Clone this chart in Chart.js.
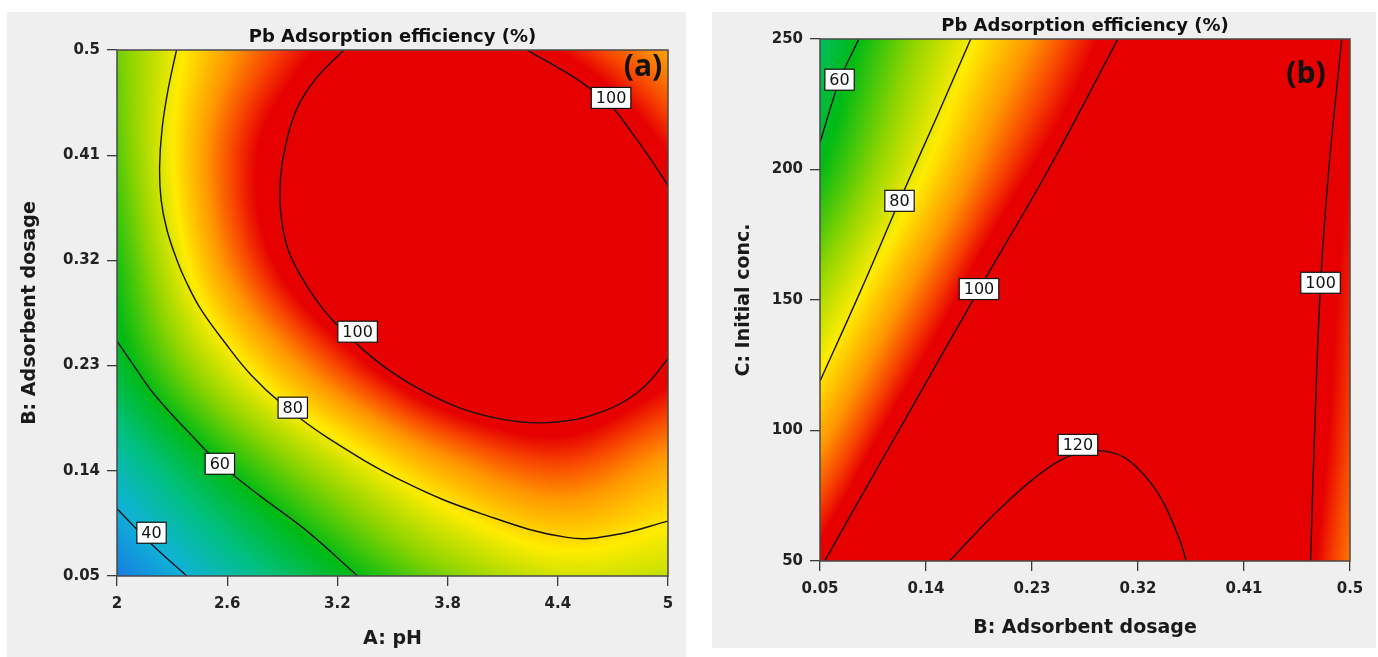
<!DOCTYPE html>
<html>
<head>
<meta charset="utf-8">
<script src="https://cdn.jsdelivr.net/npm/chart.js@4.4.0/dist/chart.umd.min.js"></script>
<style>
  body { margin: 0; background: #fff; width: 1378px; height: 657px; overflow: hidden; position: relative; }
  .panel { position: absolute; background: #efefef; }
  #pa { left: 7px; top: 12px; width: 679px; height: 645px; }
  #pb { left: 712px; top: 12px; width: 664px; height: 636px; }
</style>
</head>
<body>
<div class="panel" id="pa"><canvas id="ca"></canvas></div>
<div class="panel" id="pb"><canvas id="cb"></canvas></div>
<script>
// axis ticks
const phTicks = [2, 2.6, 3.2, 3.8, 4.4, 5];
const dosageTicks = [0.05, 0.14, 0.23, 0.32, 0.41, 0.5];
const concTicks = [50, 100, 150, 200, 250];

// efficiency (%) read at the tick grid
// (a): rows = dosage 0.05 -> 0.5, cols = pH 2 -> 5
const effA = [
  [31, 45, 58, 69, 76, 75],
  [44, 60, 74, 86, 92, 86],
  [57, 77, 93, 104, 106, 99],
  [62, 89, 105, 111, 112, 104],
  [66, 92, 106, 112, 110, 97],
  [68, 87, 99, 106, 97, 87]
];
// (b): rows = conc 50 -> 250, cols = dosage 0.05 -> 0.5
const effB = [
  [99, 116, 125, 124, 111, 90],
  [86, 104, 116, 118, 112, 93],
  [73, 92, 108, 114, 110, 95],
  [60, 80, 97, 106, 107, 97],
  [53, 72, 88, 101, 104, 99]
];

// contour lines, [x, y]
const a40 = [[2, 0.1075], [2.19, 0.077], [2.38, 0.05]];
const a60 = [[2, 0.251], [2.1, 0.228], [2.21, 0.204], [2.42, 0.168], [2.56, 0.146], [2.775, 0.119], [3.03, 0.089], [3.31, 0.05]];
const a80 = [[2.324, 0.5], [2.278, 0.466], [2.245, 0.432], [2.232, 0.4], [2.24, 0.372], [2.272, 0.346],
  [2.327, 0.32], [2.376, 0.302], [2.457, 0.278], [2.586, 0.25], [2.73, 0.222], [2.9, 0.197], [3.15, 0.168],
  [3.57, 0.13], [3.99, 0.103], [4.45, 0.083], [4.72, 0.0855], [5, 0.097]];
const a100 = [[3.235, 0.5], [3.08, 0.475], [2.98, 0.45], [2.92, 0.42], [2.89, 0.39], [2.892, 0.36], [2.93, 0.33],
  [3.0, 0.307], [3.09, 0.285], [3.19, 0.266], [3.33, 0.245], [3.49, 0.225], [3.68, 0.207], [3.88, 0.193],
  [4.1, 0.184], [4.3, 0.181], [4.5, 0.184], [4.65, 0.191], [4.78, 0.201], [4.89, 0.215], [5, 0.236]];
const a100b = [[4.23, 0.5], [4.4, 0.485], [4.55, 0.47], [4.69, 0.452], [4.8, 0.43], [4.9, 0.408], [5, 0.384]];

const b60 = [[0.083, 250], [0.0666, 234], [0.05, 210.3]];
const b80 = [[0.178, 250], [0.148, 219], [0.1175, 188], [0.0845, 153.5], [0.05, 118.9]];
const b100 = [[0.303, 250], [0.244, 200], [0.185, 154], [0.1274, 108.3], [0.0806, 71.2], [0.054, 50]];
const b100b = [[0.493, 250], [0.482, 200], [0.475, 156], [0.47, 100], [0.4665, 50]];
const b120 = [[0.16, 50], [0.183, 61], [0.2055, 71.2], [0.23, 81], [0.2525, 88.2], [0.272, 91.6], [0.29, 92.2],
  [0.307, 90], [0.321, 85], [0.334, 78], [0.343, 71.2], [0.3555, 58], [0.361, 50]];

// contour labels, [x, y, text]
const labelsA = [[4.69, 0.459, '100'], [3.31, 0.259, '100'], [2.957, 0.194, '80'], [2.56, 0.146, '60'], [2.188, 0.087, '40']];
const labelsB = [[0.0666, 234.4, '60'], [0.1175, 188, '80'], [0.185, 154.2, '100'], [0.475, 156.6, '100'], [0.269, 94.5, '120']];

// colour ramp (value -> rgb)
const heatStops = [
  [30, [25, 118, 225]], [40, [15, 178, 215]], [50, [0, 192, 128]], [60, [0, 186, 20]],
  [70, [140, 212, 0]], [80, [255, 236, 0]], [88, [255, 150, 0]], [93, [248, 70, 0]], [97, [230, 0, 0]]
];

function heatColor(v) {
  if (v <= heatStops[0][0]) return heatStops[0][1];
  for (let k = 1; k < heatStops.length; k++) {
    if (v <= heatStops[k][0]) {
      const [v0, c0] = heatStops[k - 1], [v1, c1] = heatStops[k];
      const t = (v - v0) / (v1 - v0);
      return [c0[0] + (c1[0] - c0[0]) * t, c0[1] + (c1[1] - c0[1]) * t, c0[2] + (c1[2] - c0[2]) * t];
    }
  }
  return heatStops[heatStops.length - 1][1];
}

function padGrid(g) {
  const rows = g.map(r => [2 * r[0] - r[1], ...r, 2 * r[r.length - 1] - r[r.length - 2]]);
  const n = rows.length;
  const lo = rows[0].map((v, k) => 2 * v - rows[1][k]);
  const hi = rows[n - 1].map((v, k) => 2 * v - rows[n - 2][k]);
  return [lo, ...rows, hi];
}

function cr(p0, p1, p2, p3, t) {
  return p1 + 0.5 * t * (p2 - p0 + t * (2 * p0 - 5 * p1 + 4 * p2 - p3 + t * (3 * (p1 - p2) + p3 - p0)));
}

function sampleGrid(pg, nc, nr, fx, fy) {
  const i = Math.max(0, Math.min(Math.floor(fx), nc - 2));
  const j = Math.max(0, Math.min(Math.floor(fy), nr - 2));
  const tx = fx - i, ty = fy - j;
  const row = r => cr(pg[r][i], pg[r][i + 1], pg[r][i + 2], pg[r][i + 3], tx);
  return cr(row(j), row(j + 1), row(j + 2), row(j + 3), ty);
}

const heatPlugin = {
  id: 'heat',
  beforeDatasetsDraw(chart, args, opts) {
    const { ctx, chartArea: a, scales: { x, y } } = chart;
    const g = opts.grid, xs = opts.xs, ys = opts.ys;
    const pg = padGrid(g);
    const w = Math.round(a.right - a.left), h = Math.round(a.bottom - a.top);
    const off = document.createElement('canvas');
    off.width = w; off.height = h;
    const octx = off.getContext('2d');
    const img = octx.createImageData(w, h);
    const dx = xs[1] - xs[0], dy = ys[1] - ys[0];
    for (let j = 0; j < h; j++) {
      const fy = (y.getValueForPixel(a.top + j + 0.5) - ys[0]) / dy;
      for (let i = 0; i < w; i++) {
        const fx = (x.getValueForPixel(a.left + i + 0.5) - xs[0]) / dx;
        const c = heatColor(sampleGrid(pg, xs.length, ys.length, fx, fy));
        const p = (j * w + i) * 4;
        img.data[p] = c[0]; img.data[p + 1] = c[1]; img.data[p + 2] = c[2]; img.data[p + 3] = 255;
      }
    }
    octx.putImageData(img, 0, 0);
    ctx.drawImage(off, a.left, a.top);
  }
};

const decorPlugin = {
  id: 'decor',
  afterDatasetsDraw(chart, args, opts) {
    const { ctx, chartArea: a, scales: { x, y } } = chart;
    ctx.save();
    // contour labels
    ctx.font = '16px "DejaVu Sans"';
    ctx.textAlign = 'center';
    ctx.textBaseline = 'middle';
    opts.labels.forEach(([lx, ly, t]) => {
      const px = x.getPixelForValue(lx), py = y.getPixelForValue(ly);
      const tw = ctx.measureText(t).width + 9, th = 21;
      ctx.fillStyle = '#fff';
      ctx.fillRect(px - tw / 2, py - th / 2, tw, th);
      ctx.strokeStyle = '#111';
      ctx.lineWidth = 1.2;
      ctx.strokeRect(px - tw / 2, py - th / 2, tw, th);
      ctx.fillStyle = '#111';
      ctx.fillText(t, px, py + 1);
    });
    // frame
    ctx.strokeStyle = '#4a4a4a';
    ctx.lineWidth = 1.5;
    ctx.strokeRect(a.left, a.top, a.right - a.left, a.bottom - a.top);
    // title
    ctx.fillStyle = '#111';
    ctx.font = 'bold 18px "DejaVu Sans"';
    ctx.fillText(opts.title, (a.left + a.right) / 2, a.top - 13);
    // panel tag
    ctx.font = 'bold 30px "Open Sans"';
    ctx.fillText(opts.tag, a.right - opts.tagDx, a.top + opts.tagDy);
    ctx.restore();
  }
};

const tickFont = { family: 'DejaVu Sans', size: 15, weight: 'bold' };
const titleFont = { family: 'DejaVu Sans', size: 19, weight: 'bold' };

function buildChart(id, o) {
  const lineSet = pts => ({
    data: pts.map(p => ({ x: p[0], y: p[1] })),
    showLine: true, pointRadius: 0, borderColor: '#141414', borderWidth: 1.4, tension: 0.4, clip: 0
  });
  return new Chart(document.getElementById(id), {
    type: 'scatter',
    data: { datasets: o.lines.map(lineSet) },
    options: {
      responsive: true, maintainAspectRatio: false, animation: false,
      layout: { padding: o.pad },
      plugins: {
        legend: { display: false },
        tooltip: { enabled: false },
        heat: { grid: o.grid, xs: o.xTicks, ys: o.yTicks },
        decor: { labels: o.labels, title: 'Pb Adsorption efficiency (%)', tag: o.tag, tagDx: o.tagDx, tagDy: o.tagDy }
      },
      scales: {
        x: {
          type: 'linear', min: o.xTicks[0], max: o.xTicks[o.xTicks.length - 1],
          afterBuildTicks: s => { s.ticks = o.xTicks.map(v => ({ value: v })); },
          afterFit: s => { s.height = o.xH; },
          ticks: { font: tickFont, color: '#222', padding: 9, maxRotation: 0, callback: v => String(v) },
          grid: { drawOnChartArea: false, tickLength: 10, color: '#3a3a3a', lineWidth: 1.3 },
          border: { display: false },
          title: { display: true, text: o.xTitle, font: titleFont, color: '#1a1a1a', padding: { top: 0, bottom: o.xTitlePad } }
        },
        y: {
          type: 'linear', min: o.yTicks[0], max: o.yTicks[o.yTicks.length - 1],
          afterBuildTicks: s => { s.ticks = o.yTicks.map(v => ({ value: v })); },
          afterFit: s => { s.width = o.yW; },
          ticks: { font: tickFont, color: '#222', padding: 7, callback: v => String(v) },
          grid: { drawOnChartArea: false, tickLength: 10, color: '#3a3a3a', lineWidth: 1.3 },
          border: { display: false },
          title: { display: true, text: o.yTitle, font: titleFont, color: '#1a1a1a', padding: { top: o.yTitlePad, bottom: 0 } }
        }
      }
    },
    plugins: [heatPlugin, decorPlugin]
  });
}

buildChart('ca', {
  grid: effA, xTicks: phTicks, yTicks: dosageTicks,
  lines: [a40, a60, a80, a100, a100b], labels: labelsA,
  xTitle: 'A: pH', yTitle: 'B: Adsorbent dosage',
  pad: { left: 0, right: 18, top: 38, bottom: 0 }, xH: 81, yW: 110,
  xTitlePad: 7, yTitlePad: 12, tag: '(a)', tagDx: 25, tagDy: 17
});

buildChart('cb', {
  grid: effB, xTicks: dosageTicks, yTicks: concTicks,
  lines: [b60, b80, b100, b100b, b120], labels: labelsB,
  xTitle: 'B: Adsorbent dosage', yTitle: 'C: Initial conc.',
  pad: { left: 0, right: 26, top: 27, bottom: 0 }, xH: 87, yW: 108,
  xTitlePad: 9, yTitlePad: 21, tag: '(b)', tagDx: 44, tagDy: 35
});
</script>
</body>
</html>
